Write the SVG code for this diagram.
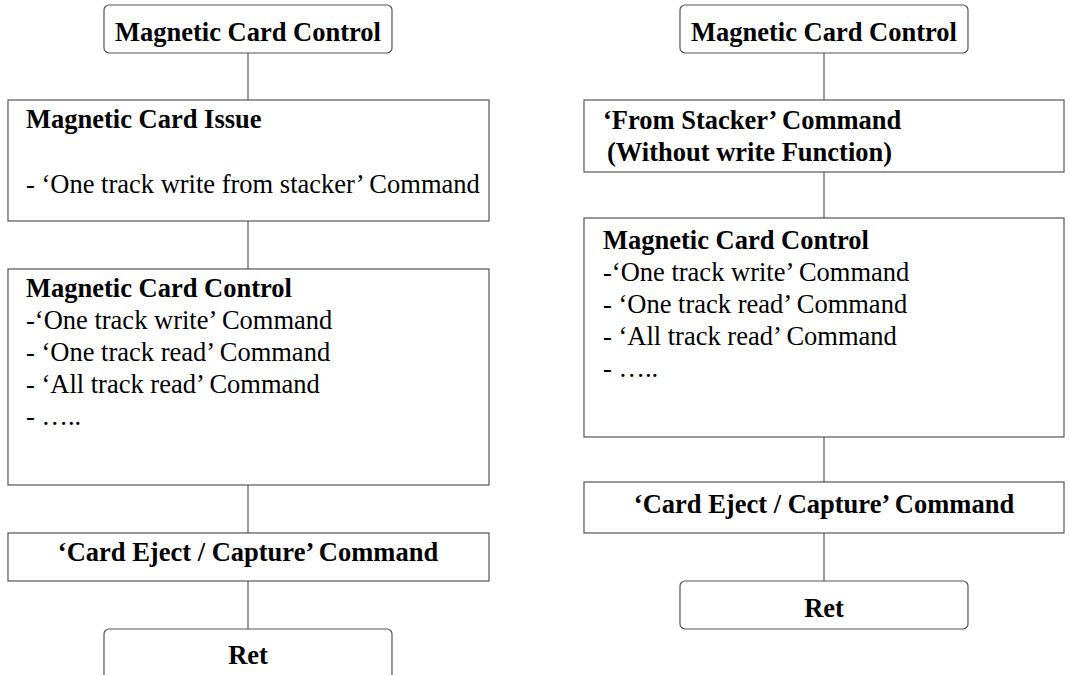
<svg xmlns="http://www.w3.org/2000/svg" width="1069" height="675" viewBox="0 0 1069 675">
<style>
.box{fill:#fff;stroke:#555;stroke-width:1.2}
.t{font-family:"Liberation Serif","Times New Roman",serif;font-size:26.5px;fill:#000}
.b{font-weight:bold}
.c{text-anchor:middle}
.conn line{stroke:#555;stroke-width:1.2}
</style>
<rect width="1069" height="675" fill="#fff"/>
<g class="conn" id="connectors">
<line x1="248" y1="53" x2="248" y2="100"/>
<line x1="248" y1="221" x2="248" y2="269"/>
<line x1="248" y1="485" x2="248" y2="533"/>
<line x1="248" y1="581" x2="248" y2="629"/>
<line x1="824" y1="53" x2="824" y2="100"/>
<line x1="824" y1="172" x2="824" y2="218"/>
<line x1="824" y1="437" x2="824" y2="482"/>
<line x1="824" y1="533" x2="824" y2="581"/>
</g>
<g id="L1"><rect class="box" x="104" y="5" width="288" height="48" rx="5"/><text class="t b c" x="248" y="41">Magnetic Card Control</text></g>
<g id="L2"><rect class="box" x="8" y="100" width="481" height="121"/><text class="t b" x="26" y="128">Magnetic Card Issue</text><text class="t" x="26" y="193">- ‘One track write from stacker’ Command</text></g>
<g id="L3"><rect class="box" x="8" y="269" width="481" height="216"/>
<text class="t b" x="26" y="297">Magnetic Card Control</text>
<text class="t" x="26" y="329">-‘One track write’ Command</text>
<text class="t" x="26" y="361">- ‘One track read’ Command</text>
<text class="t" x="26" y="393">- ‘All track read’ Command</text>
<text class="t" x="26" y="425">- …..</text></g>
<g id="L4"><rect class="box" x="8" y="533" width="481" height="48"/><text class="t b c" x="248" y="561">‘Card Eject / Capture’ Command</text></g>
<g id="L5"><rect class="box" x="104" y="629" width="288" height="52" rx="5"/><text class="t b c" x="248" y="664">Ret</text></g>
<g id="R1"><rect class="box" x="680" y="5" width="288" height="48" rx="5"/><text class="t b c" x="824" y="41">Magnetic Card Control</text></g>
<g id="R2"><rect class="box" x="584" y="100" width="480" height="72"/><text class="t b" x="603" y="129">‘From Stacker’ Command</text><text class="t b" x="607" y="161">(Without write Function)</text></g>
<g id="R3"><rect class="box" x="584" y="218" width="480" height="219"/>
<text class="t b" x="603" y="249">Magnetic Card Control</text>
<text class="t" x="603" y="281">-‘One track write’ Command</text>
<text class="t" x="603" y="313">- ‘One track read’ Command</text>
<text class="t" x="603" y="345">- ‘All track read’ Command</text>
<text class="t" x="603" y="377">- …..</text></g>
<g id="R4"><rect class="box" x="584" y="482" width="480" height="51"/><text class="t b c" x="824" y="513">‘Card Eject / Capture’ Command</text></g>
<g id="R5"><rect class="box" x="680" y="581" width="288" height="48" rx="5"/><text class="t b c" x="824" y="617">Ret</text></g>
</svg>
